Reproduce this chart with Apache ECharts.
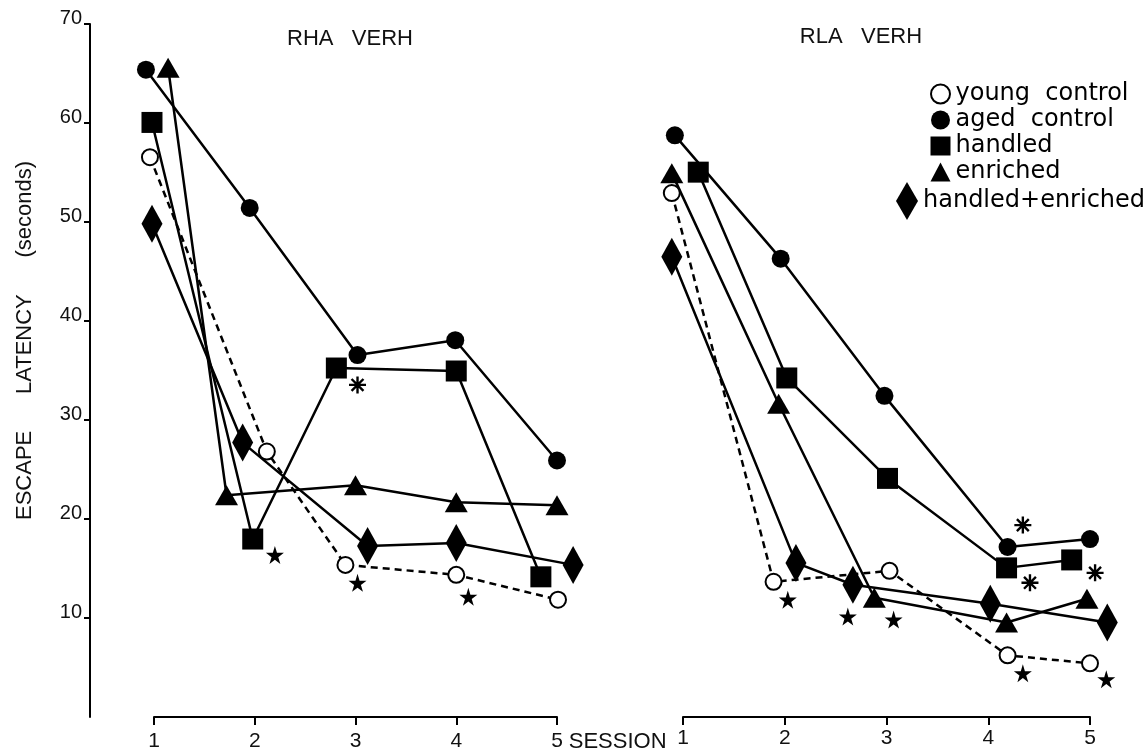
<!DOCTYPE html>
<html>
<head>
<meta charset="utf-8">
<script src="https://cdn.jsdelivr.net/npm/echarts@6/dist/echarts.min.js"></script>
<style>
  html, body { margin: 0; padding: 0; background: #fff; }
  #chart { width: 1147px; height: 753px; }
</style>
</head>
<body>
<div id="chart"></div>
<script>
// session ticks and latency ticks
var sessions = [1, 2, 3, 4, 5];
var yTicks = [10, 20, 30, 40, 50, 60, 70];
var groups = ['young control', 'aged control', 'handled', 'enriched', 'handled+enriched'];

// RHA VERH  [session (plotted with offset), latency s]
var rhaYoung    = [[0.96, 56.6], [2.12, 27.0], [2.90, 15.6], [4.00, 14.6], [5.01, 12.1]];
var rhaAged     = [[0.92, 65.4], [1.95, 51.5], [3.02, 36.7], [3.99, 38.2], [5.00, 26.1]];
var rhaHandled  = [[0.98, 60.1], [1.98, 18.2], [2.81, 35.4], [4.00, 35.1], [4.84, 14.4]];
var rhaEnriched = [[1.14, 65.6], [1.72, 22.6], [3.00, 23.6], [4.00, 21.9], [5.00, 21.6]];
var rhaHandEnr  = [[0.98, 49.9], [1.88, 27.9], [3.12, 17.5], [4.00, 17.8], [5.16, 15.6]];
var rhaStars    = [[2.20, 16.6], [3.02, 13.8], [4.12, 12.4]];
var rhaAsterisk = [[3.02, 33.7]];

// RLA VERH
var rlaYoung    = [[0.89, 53.0], [1.89, 13.9], [3.03, 15.0], [4.19, 6.5], [5.00, 5.7]];
var rlaAged     = [[0.92, 58.8], [1.96, 46.4], [2.98, 32.6], [4.19, 17.4], [5.00, 18.2]];
var rlaHandled  = [[1.15, 55.1], [2.02, 34.4], [3.01, 24.3], [4.18, 15.3], [4.82, 16.1]];
var rlaEnriched = [[0.89, 55.0], [1.94, 31.8], [2.88, 12.3], [4.18, 9.8], [4.97, 12.2]];
var rlaHandEnr  = [[0.89, 46.6], [2.11, 15.8], [2.67, 13.6], [4.02, 11.7], [5.17, 9.8]];
var rlaStars    = [[2.03, 12.1], [2.62, 10.4], [3.07, 10.1], [4.34, 4.7], [5.16, 4.1]];
var rlaAsterisk = [[4.34, 19.6], [4.41, 13.8], [5.05, 14.8]];

var starPath = 'path://M50,0 L61,35 L98,35 L68,57 L79,91 L50,70 L21,91 L32,57 L2,35 L39,35 Z';
var asteriskPath = 'path://M43,0 H57 V100 H43 Z M0,43 H100 V57 H0 Z M10,20 L20,10 L90,80 L80,90 Z M20,90 L10,80 L80,10 L90,20 Z';

var myChart = echarts.init(document.getElementById('chart'));

var markers = {
    'young control':    { symbol: 'circle',   size: 16,       fill: '#fff', dashed: true },
    'aged control':     { symbol: 'circle',   size: 18,       fill: '#000' },
    'handled':          { symbol: 'rect',     size: 21,       fill: '#000' },
    'enriched':         { symbol: 'triangle', size: [23, 20], fill: '#000' },
    'handled+enriched': { symbol: 'diamond',  size: [21, 38], fill: '#000' }
};

// data grids are a bit wider than the 1..5 axes so offset marks fit
var dataMin = 0.8, dataMax = 5.3;
var pxL = 100.75, pxR = 101.75;

function groupSeries(name, data, axisIdx) {
    var m = markers[name];
    return {
        name: name,
        type: 'line',
        xAxisIndex: axisIdx,
        yAxisIndex: axisIdx,
        data: data,
        clip: false,
        symbol: m.symbol,
        symbolSize: m.size,
        showAllSymbol: true,
        animation: false,
        itemStyle: { color: m.fill, borderColor: '#000', borderWidth: m.fill === '#fff' ? 2 : 0, opacity: 1 },
        lineStyle: { color: '#000', width: 2.5, type: m.dashed ? [7, 5] : 'solid' },
        emphasis: { disabled: true }
    };
}

function markSeries(name, data, axisIdx, path, size) {
    return {
        name: name,
        type: 'scatter',
        xAxisIndex: axisIdx,
        yAxisIndex: axisIdx,
        data: data,
        clip: false,
        symbol: path,
        symbolSize: size,
        animation: false,
        itemStyle: { color: '#000', opacity: 1 },
        emphasis: { disabled: true }
    };
}

var tickFont = { color: '#111', fontFamily: 'Liberation Sans', fontSize: 21 };

function xAxisOpt(gridIdx, offset, name) {
    return {
        type: 'value',
        gridIndex: gridIdx,
        min: 1,
        max: 5,
        interval: 1,
        offset: offset,
        name: name,
        nameLocation: 'end',
        nameGap: 10,
        nameTextStyle: { color: '#111', fontFamily: 'Liberation Sans', fontSize: 22, verticalAlign: 'top', padding: [14, 0, 0, 0] },
        axisLine: { lineStyle: { color: '#000', width: 2 } },
        axisTick: { length: 8, lineStyle: { color: '#000', width: 2 } },
        axisLabel: Object.assign({ margin: 11 }, tickFont),
        splitLine: { show: false }
    };
}

function hiddenX(gridIdx) {
    return { type: 'value', gridIndex: gridIdx, min: dataMin, max: dataMax, show: false, splitLine: { show: false } };
}

function hiddenY(gridIdx) {
    return { type: 'value', gridIndex: gridIdx, min: 0, max: 70, show: false, splitLine: { show: false } };
}

var legendText = { color: '#000', fontFamily: 'DejaVu Sans', fontSize: 24, lineHeight: 24 };

function legendItem(g) {
    var m = markers[g];
    return {
        name: g,
        icon: m.symbol,
        itemStyle: { color: m.fill, borderColor: '#000', borderWidth: m.fill === '#fff' ? 2 : 0 }
    };
}

var option = {
    backgroundColor: '#fff',
    title: [
        { text: 'RHA   VERH', left: 345, top: 23, textAlign: 'center',
          textStyle: { color: '#111', fontFamily: 'Liberation Sans', fontSize: 22, fontWeight: 'normal' } },
        { text: 'RLA   VERH', left: 856, top: 21, textAlign: 'center',
          textStyle: { color: '#111', fontFamily: 'Liberation Sans', fontSize: 22, fontWeight: 'normal' } }
    ],
    legend: [
        {
            orient: 'vertical',
            left: 925,
            top: 77,
            itemGap: 2,
            itemWidth: 20,
            itemHeight: 19,
            selectedMode: false,
            formatter: function (n) { return n.replace(' control', '  control'); },
            textStyle: legendText,
            data: groups.slice(0, 4).map(legendItem)
        },
        {
            orient: 'vertical',
            left: 891,
            top: 177,
            itemWidth: 22,
            itemHeight: 38,
            selectedMode: false,
            textStyle: legendText,
            data: groups.slice(4).map(legendItem)
        }
    ],
    grid: [
        { left: 154 - (1 - dataMin) * pxL, width: (dataMax - dataMin) * pxL, top: 24, height: 696 },
        { left: 154, width: 4 * pxL, top: 24, height: 696 },
        { left: 683 - (1 - dataMin) * pxR, width: (dataMax - dataMin) * pxR, top: 24, height: 696 },
        { left: 683, width: 4 * pxR, top: 24, height: 696 }
    ],
    xAxis: [
        hiddenX(0),
        xAxisOpt(1, 3, 'SESSION'),
        hiddenX(2),
        xAxisOpt(3, -3, '')
    ],
    yAxis: [
        hiddenY(0),
        {
            type: 'value',
            gridIndex: 1,
            min: 0,
            max: 70,
            offset: 64,
            name: 'ESCAPE      LATENCY      (seconds)',
            nameLocation: 'middle',
            nameGap: 54,
            nameTextStyle: { color: '#111', fontFamily: 'Liberation Sans', fontSize: 22, padding: [0, 0, 0, 60] },
            axisLine: { show: true, lineStyle: { color: '#000', width: 2 } },
            axisTick: { show: true, length: 6, customValues: yTicks, lineStyle: { color: '#000', width: 2 } },
            axisLabel: { margin: 8, customValues: yTicks, verticalAlign: 'bottom', lineHeight: 12,
                         color: '#111', fontFamily: 'Liberation Sans', fontSize: 20 },
            splitLine: { show: false }
        },
        hiddenY(2),
        hiddenY(3)
    ],
    series: [
        groupSeries('young control', rhaYoung, 0),
        groupSeries('aged control', rhaAged, 0),
        groupSeries('handled', rhaHandled, 0),
        groupSeries('enriched', rhaEnriched, 0),
        groupSeries('handled+enriched', rhaHandEnr, 0),
        markSeries('rha stars', rhaStars, 0, starPath, 18),
        markSeries('rha asterisk', rhaAsterisk, 0, asteriskPath, 17),
        groupSeries('young control', rlaYoung, 2),
        groupSeries('aged control', rlaAged, 2),
        groupSeries('handled', rlaHandled, 2),
        groupSeries('enriched', rlaEnriched, 2),
        groupSeries('handled+enriched', rlaHandEnr, 2),
        markSeries('rla stars', rlaStars, 2, starPath, 18),
        markSeries('rla asterisk', rlaAsterisk, 2, asteriskPath, 17)
    ]
};

myChart.setOption(option);
</script>
</body>
</html>
